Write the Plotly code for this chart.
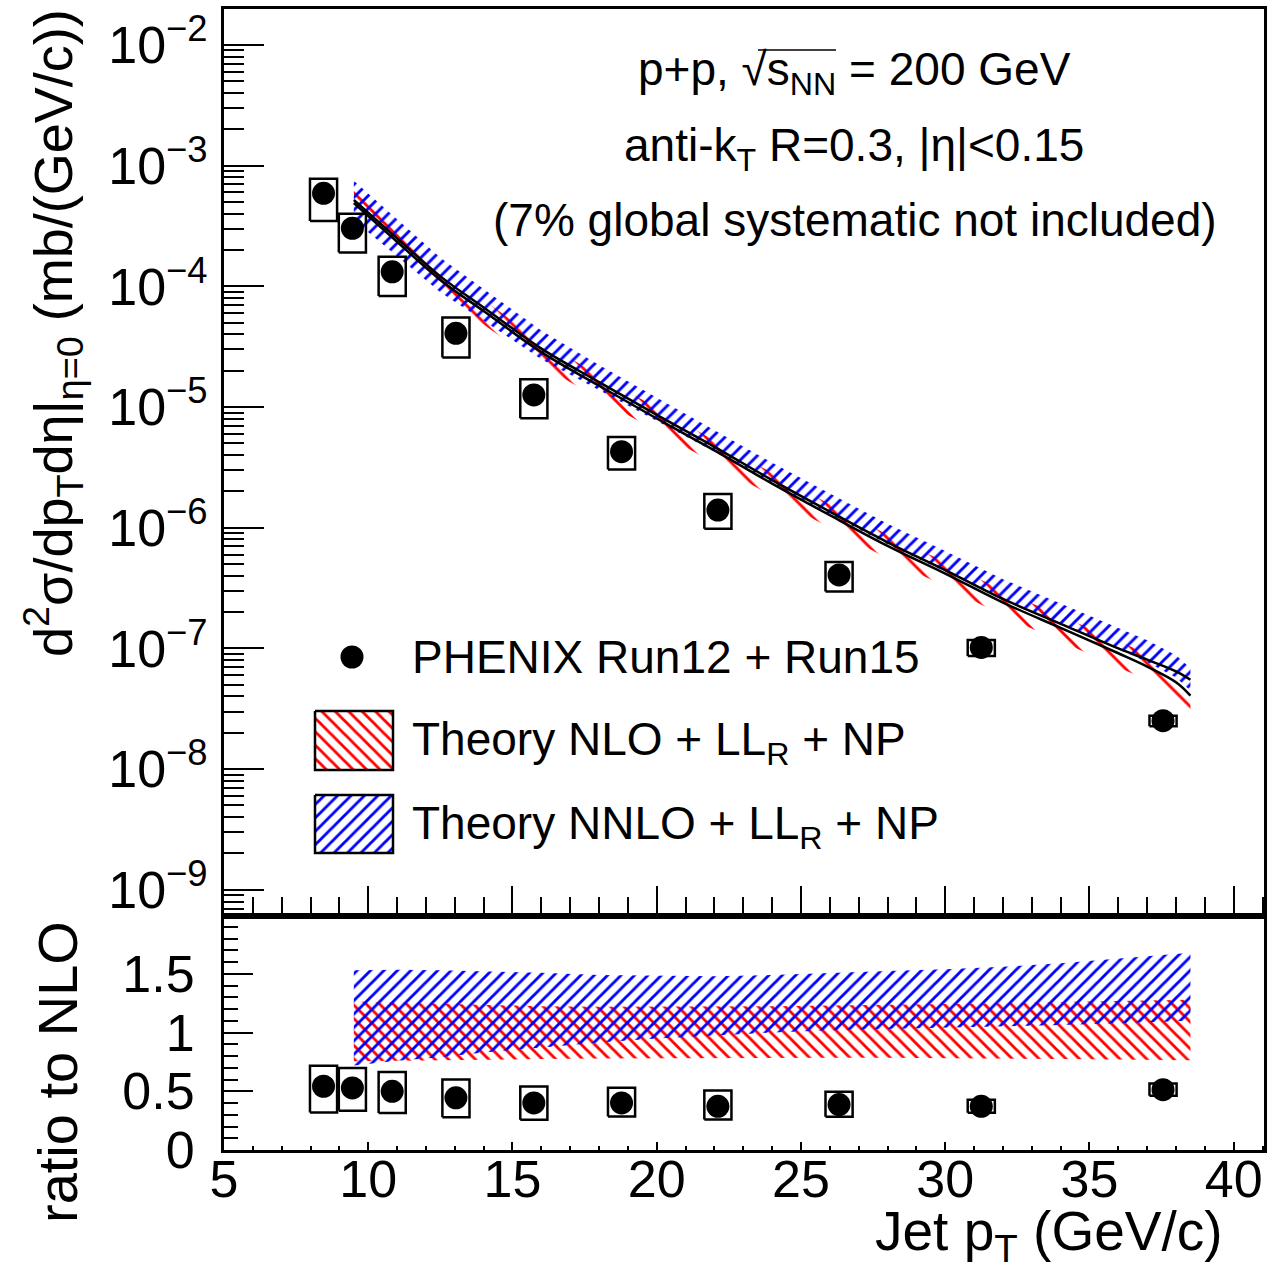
import plotly.graph_objects as go

# ---------------- data ----------------
jet_pt = [8.45, 9.45, 10.83, 13.04, 15.74, 18.78, 22.12, 26.32, 31.25, 37.55]
xsec = [5.90e-4, 3.03e-4, 1.32e-4, 4.08e-5, 1.26e-5, 4.27e-6, 1.40e-6, 4.06e-7, 1.02e-7, 2.52e-8]
sys_up = [0.32, 0.32, 0.33, 0.35, 0.35, 0.32, 0.36, 0.28, 0.15, 0.10]
sys_dn = [0.41, 0.37, 0.37, 0.37, 0.36, 0.29, 0.30, 0.27, 0.15, 0.10]
ratio_to_nlo = [0.543, 0.529, 0.500, 0.444, 0.401, 0.401, 0.372, 0.387, 0.372, 0.514]
box_halfwidth = 0.47

theory_pt = [9.5, 11, 12.5, 14, 16, 18, 20, 22, 24, 26, 28, 30, 32, 34, 36, 37, 38, 38.5]
nlo_central = [4.90e-4, 2.34e-4, 1.13e-4, 6.24e-5, 2.85e-5, 1.50e-5, 8.04e-6, 4.37e-6, 2.32e-6,
               1.27e-6, 7.08e-7, 4.17e-7, 2.40e-7, 1.48e-7, 9.12e-8, 7.08e-8, 5.25e-8, 4.07e-8]
nnlo_central = [5.19e-4, 2.50e-4, 1.21e-4, 6.68e-5, 3.05e-5, 1.61e-5, 8.60e-6, 4.68e-6, 2.48e-6,
                1.36e-6, 7.58e-7, 4.46e-7, 2.57e-7, 1.60e-7, 1.00e-7, 8.07e-8, 6.46e-8, 5.50e-8]
nlo_ratio_hi = [1.265, 1.255, 1.245, 1.235, 1.225, 1.22, 1.22, 1.22, 1.225, 1.23, 1.235, 1.245,
                1.25, 1.26, 1.27, 1.275, 1.28, 1.28]
nlo_ratio_lo = [0.755, 0.76, 0.765, 0.77, 0.775, 0.78, 0.785, 0.785, 0.785, 0.785, 0.785, 0.78,
                0.78, 0.775, 0.77, 0.77, 0.765, 0.765]
nnlo_ratio_hi = [1.53, 1.535, 1.53, 1.52, 1.51, 1.49, 1.485, 1.48, 1.49, 1.51, 1.525, 1.54,
                 1.56, 1.59, 1.63, 1.65, 1.67, 1.68]
nnlo_ratio_lo = [0.72, 0.76, 0.79, 0.83, 0.875, 0.915, 0.95, 0.975, 1.0, 1.02, 1.03, 1.04,
                 1.055, 1.065, 1.08, 1.09, 1.095, 1.10]

y_tick_decades = [1e-9, 1e-8, 1e-7, 1e-6, 1e-5, 1e-4, 1e-3, 1e-2]
y_tick_text = ["10<sup>\u22129</sup>", "10<sup>\u22128</sup>", "10<sup>\u22127</sup>", "10<sup>\u22126</sup>",
               "10<sup>\u22125</sup>", "10<sup>\u22124</sup>", "10<sup>\u22123</sup>", "10<sup>\u22122</sup>"]
ratio_ticks = [0, 0.5, 1, 1.5]
ratio_tick_text = ["0", "0.5", "1", "1.5"]
x_ticks = [5, 10, 15, 20, 25, 30, 35, 40]

# ---------------- helpers ----------------
FONT = "Liberation Sans, Arial, Helvetica, sans-serif"
PLOT_L, PLOT_R, PLOT_T, PLOT_B = 224, 1264, 9, 1150


def px(x):
    return (x - PLOT_L) / (PLOT_R - PLOT_L)


def py(y):
    return (PLOT_B - y) / (PLOT_B - PLOT_T)


def band(xv, lo, hi):
    return list(xv) + list(xv)[::-1], list(hi) + list(lo)[::-1]


def boxes(xv, yv, up, dn, hw):
    bx, by = [], []
    for x, y, u, d in zip(xv, yv, up, dn):
        lo, hi = y * (1 - d), y * (1 + u)
        bx += [x - hw, x + hw, x + hw, x - hw, x - hw, None]
        by += [lo, lo, hi, hi, lo, None]
    return bx, by


def pattern(shape, color, size, solidity):
    return dict(shape=shape, fgcolor=color, bgcolor="rgba(0,0,0,0)",
                size=size, solidity=solidity, fillmode="replace")


fig = go.Figure()

# ---------------- top panel ----------------
nlo_hi_abs = [c * r for c, r in zip(nlo_central, nlo_ratio_hi)]
nlo_lo_abs = [c * r for c, r in zip(nlo_central, nlo_ratio_lo)]
nnlo_hi_abs = [c * r for c, r in zip(nlo_central, nnlo_ratio_hi)]
nnlo_lo_abs = [c * r for c, r in zip(nlo_central, nnlo_ratio_lo)]

bx, by = band(theory_pt, nlo_lo_abs, nlo_hi_abs)
fig.add_trace(go.Scatter(x=bx, y=by, mode="lines", fill="toself", fillcolor="rgba(0,0,0,0)",
                         fillpattern=pattern("\\", "red", 19, 0.15), line=dict(width=0),
                         xaxis="x", yaxis="y", hoverinfo="skip", showlegend=False))
bx, by = band(theory_pt, nnlo_lo_abs, nnlo_hi_abs)
fig.add_trace(go.Scatter(x=bx, y=by, mode="lines", fill="toself", fillcolor="rgba(0,0,0,0)",
                         fillpattern=pattern("/", "blue", 9, 0.32), line=dict(width=0),
                         xaxis="x", yaxis="y", hoverinfo="skip", showlegend=False))
fig.add_trace(go.Scatter(x=theory_pt, y=nlo_central, mode="lines",
                         line=dict(color="black", width=2.5, shape="spline"),
                         xaxis="x", yaxis="y", showlegend=False))
fig.add_trace(go.Scatter(x=theory_pt, y=nnlo_central, mode="lines",
                         line=dict(color="black", width=2.5, shape="spline"),
                         xaxis="x", yaxis="y", showlegend=False))
bx, by = boxes(jet_pt, xsec, sys_up, sys_dn, box_halfwidth)
fig.add_trace(go.Scatter(x=bx, y=by, mode="lines", line=dict(color="black", width=2.5),
                         xaxis="x", yaxis="y", showlegend=False, connectgaps=False))
fig.add_trace(go.Scatter(x=jet_pt, y=xsec, mode="markers", marker=dict(color="black", size=23),
                         xaxis="x", yaxis="y", showlegend=False))

# ---------------- ratio panel ----------------
bx, by = band(theory_pt, nlo_ratio_lo, nlo_ratio_hi)
fig.add_trace(go.Scatter(x=bx, y=by, mode="lines", fill="toself", fillcolor="rgba(0,0,0,0)",
                         fillpattern=pattern("\\", "red", 9.5, 0.3), line=dict(width=0),
                         xaxis="x2", yaxis="y2", hoverinfo="skip", showlegend=False))
bx, by = band(theory_pt, nnlo_ratio_lo, nnlo_ratio_hi)
fig.add_trace(go.Scatter(x=bx, y=by, mode="lines", fill="toself", fillcolor="rgba(0,0,0,0)",
                         fillpattern=pattern("/", "blue", 9.5, 0.3), line=dict(width=0),
                         xaxis="x2", yaxis="y2", hoverinfo="skip", showlegend=False))
bx, by = boxes(jet_pt, ratio_to_nlo, sys_up, sys_dn, box_halfwidth)
fig.add_trace(go.Scatter(x=bx, y=by, mode="lines", line=dict(color="black", width=2.5),
                         xaxis="x2", yaxis="y2", showlegend=False))
fig.add_trace(go.Scatter(x=jet_pt, y=ratio_to_nlo, mode="markers", marker=dict(color="black", size=23),
                         xaxis="x2", yaxis="y2", showlegend=False))

# ---------------- legend (drawn on a pixel-like overlay axis) ----------------
fig.add_trace(go.Scatter(x=[352], y=[657], mode="markers", marker=dict(color="black", size=23),
                         xaxis="x3", yaxis="y3", showlegend=False, hoverinfo="skip"))
fig.add_trace(go.Scatter(x=[315, 393, 393, 315, 315], y=[711, 711, 770, 770, 711], mode="lines",
                         fill="toself", fillcolor="rgba(0,0,0,0)",
                         fillpattern=pattern("\\", "red", 9.5, 0.3),
                         line=dict(color="black", width=2.5), xaxis="x3", yaxis="y3",
                         showlegend=False, hoverinfo="skip"))
fig.add_trace(go.Scatter(x=[315, 393, 393, 315, 315], y=[795, 795, 853, 853, 795], mode="lines",
                         fill="toself", fillcolor="rgba(0,0,0,0)",
                         fillpattern=pattern("/", "blue", 9.5, 0.3),
                         line=dict(color="black", width=2.5), xaxis="x3", yaxis="y3",
                         showlegend=False, hoverinfo="skip"))

TXT = 46
ann = []


def add_text(x, y, text, size=TXT, xanchor="left", yanchor="middle", angle=0):
    ann.append(dict(x=px(x), y=py(y), xref="paper", yref="paper", text=text, showarrow=False,
                    xanchor=xanchor, yanchor=yanchor, textangle=angle,
                    font=dict(family=FONT, size=size, color="black")))


add_text(410, 657, "PHENIX Run12 + Run15")
add_text(410, 742, "Theory NLO + LL<sub>R</sub> + NP")
add_text(410, 827, "Theory NNLO + LL<sub>R</sub> + NP")
add_text(854, 72, "p+p, √s<sub>NN</sub> = 200 GeV", xanchor="center")
add_text(854, 148, "anti-k<sub>T</sub> R=0.3, |η|&lt;0.15", xanchor="center")
add_text(855, 220, "(7% global systematic not included)", xanchor="center")
add_text(53, 333, "d<sup>2</sup>σ/dp<sub>T</sub>dη|<sub>η=0</sub> (mb/(GeV/c))", size=54,
         xanchor="center", angle=-90)
add_text(57, 1072, "ratio to NLO", size=56, xanchor="center", angle=-90)
add_text(1225, 1235, "Jet p<sub>T</sub> (GeV/c)", size=55, xanchor="right")

# overline of the square root
shapes = [dict(type="line", xref="paper", yref="paper", x0=px(758), x1=px(836), y0=py(50), y1=py(50),
               line=dict(color="black", width=1.5))]

# ---------------- axes / layout ----------------
log_minor = [k * 10.0 ** e for e in range(-11, -1) for k in range(2, 10)]
common = dict(showline=True, linecolor="black", linewidth=3, mirror=True, showgrid=False,
              zeroline=False, ticks="inside", tickcolor="black", tickwidth=2)
XR = [5, 41.05]
split = 0.2055

fig.update_layout(
    width=1286, height=1271,
    margin=dict(l=PLOT_L, r=1286 - PLOT_R, t=PLOT_T, b=1271 - PLOT_B, autoexpand=False),
    paper_bgcolor="white", plot_bgcolor="rgba(0,0,0,0)",
    font=dict(family=FONT, size=52, color="black"),
    xaxis=dict(domain=[0, 1], anchor="y", range=XR, tickvals=x_ticks, ticklen=30,
               showticklabels=False,
               minor=dict(dtick=1, tick0=5, ticks="inside", ticklen=19, tickwidth=2, tickcolor="black"),
               **common),
    yaxis=dict(domain=[split, 1], anchor="x", type="log", range=[-9.213, -1.702],
               tickvals=y_tick_decades, ticktext=y_tick_text,
               ticklen=40, ticklabelstandoff=3, tickfont=dict(size=52),
               minor=dict(tickvals=log_minor, ticks="inside", ticklen=20, tickwidth=2, tickcolor="black"),
               **common),
    xaxis2=dict(domain=[0, 1], anchor="y2", range=XR, tickvals=x_ticks, ticklen=8,
                ticklabelstandoff=-18, tickfont=dict(size=52),
                minor=dict(dtick=1, tick0=5, ticks="inside", ticklen=4, tickwidth=2, tickcolor="black"),
                **common),
    yaxis2=dict(domain=[0, split], anchor="x2", range=[0, 1.997], tickvals=ratio_ticks,
                ticktext=ratio_tick_text, ticklen=29, ticklabelstandoff=16,
                tickfont=dict(size=52),
                minor=dict(dtick=0.1, tick0=0, ticks="inside", ticklen=14, tickwidth=2, tickcolor="black"),
                **common),
    xaxis3=dict(domain=[0, 1], anchor="y3", range=[PLOT_L, PLOT_R], visible=False, fixedrange=True),
    yaxis3=dict(domain=[0, 1], anchor="x3", range=[PLOT_B, PLOT_T], visible=False, fixedrange=True),
    annotations=ann,
    shapes=shapes,
)

fig.write_html("out.html")
